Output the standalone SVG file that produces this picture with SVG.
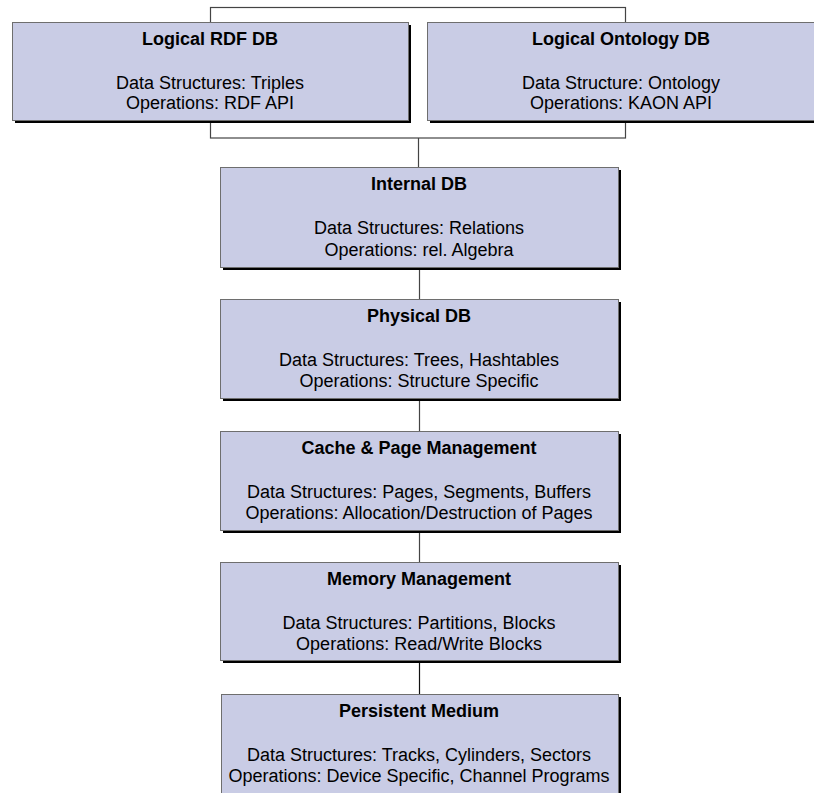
<svg xmlns="http://www.w3.org/2000/svg" width="814" height="793" viewBox="0 0 814 793">
<style>
.shadow{fill:#000}
.box{fill:#C9CCE5;stroke:#6E6E6E;stroke-width:1}
.t{font-family:"Liberation Sans",Arial,sans-serif;font-size:18px;fill:#000;text-anchor:middle}
.b{font-weight:bold}
.c{stroke:#444;stroke-width:1.2;fill:none}
</style>
<rect width="814" height="793" fill="#fff"/>
<g id="connectors">
<rect class="c" x="210.5" y="7.5" width="415" height="130.5"/>
<line class="c" x1="418.5" y1="138" x2="418.5" y2="167"/>
<line class="c" x1="419.5" y1="267" x2="419.5" y2="299"/>
<line class="c" x1="419.5" y1="398" x2="419.5" y2="431"/>
<line class="c" x1="419.5" y1="530" x2="419.5" y2="562"/>
<line class="c" x1="419.5" y1="660" x2="419.5" y2="694" style="stroke:#111"/>
</g>
<g id="logical-rdf-db">
<rect class="shadow" x="15" y="25" width="396" height="98"/>
<rect class="box" x="12.5" y="22.5" width="396" height="98"/>
<text class="t b" x="210" y="45">Logical RDF DB</text>
<text class="t" x="210" y="89">Data Structures: Triples</text>
<text class="t" x="210" y="109">Operations: RDF API</text>
</g>
<g id="logical-ontology-db">
<rect class="shadow" x="430" y="25" width="396" height="98"/>
<rect class="box" x="427.5" y="22.5" width="396" height="98"/>
<text class="t b" x="621" y="45">Logical Ontology DB</text>
<text class="t" x="621" y="89">Data Structure: Ontology</text>
<text class="t" x="621" y="109">Operations: KAON API</text>
</g>
<g id="internal-db">
<rect class="shadow" x="223" y="170" width="398" height="100"/>
<rect class="box" x="220.5" y="167.5" width="398" height="100"/>
<text class="t b" x="419" y="190">Internal DB</text>
<text class="t" x="419" y="234">Data Structures: Relations</text>
<text class="t" x="419" y="256">Operations: rel. Algebra</text>
</g>
<g id="physical-db">
<rect class="shadow" x="223" y="302" width="398" height="99"/>
<rect class="box" x="220.5" y="299.5" width="398" height="99"/>
<text class="t b" x="419" y="322">Physical DB</text>
<text class="t" x="419" y="366">Data Structures: Trees, Hashtables</text>
<text class="t" x="419" y="387">Operations: Structure Specific</text>
</g>
<g id="cache-page-management">
<rect class="shadow" x="223" y="434" width="398" height="99"/>
<rect class="box" x="220.5" y="431.5" width="398" height="99"/>
<text class="t b" x="419" y="454">Cache &amp; Page Management</text>
<text class="t" x="419" y="498">Data Structures: Pages, Segments, Buffers</text>
<text class="t" x="419" y="519">Operations: Allocation/Destruction of Pages</text>
</g>
<g id="memory-management">
<rect class="shadow" x="223" y="565" width="398" height="98"/>
<rect class="box" x="220.5" y="562.5" width="398" height="98"/>
<text class="t b" x="419" y="585">Memory Management</text>
<text class="t" x="419" y="629">Data Structures: Partitions, Blocks</text>
<text class="t" x="419" y="650">Operations: Read/Write Blocks</text>
</g>
<g id="persistent-medium">
<rect class="shadow" x="224" y="697" width="397" height="110"/>
<rect class="box" x="221.5" y="694.5" width="397" height="110"/>
<text class="t b" x="419" y="717">Persistent Medium</text>
<text class="t" x="419" y="761">Data Structures: Tracks, Cylinders, Sectors</text>
<text class="t" x="419" y="782">Operations: Device Specific, Channel Programs</text>
</g>
</svg>
